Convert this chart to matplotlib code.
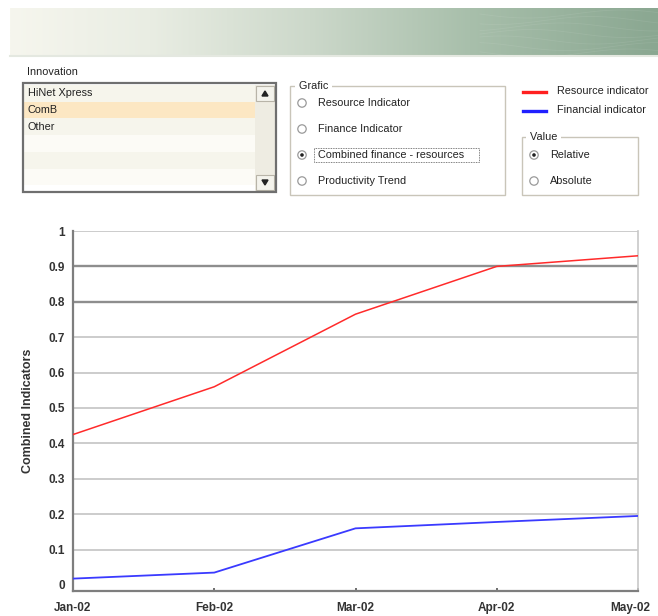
import numpy as np
import matplotlib
matplotlib.use("Agg")
import matplotlib.pyplot as plt
from matplotlib.patches import Rectangle, Circle
from matplotlib.transforms import ScaledTranslation

# ---- data ----
months = ["Jan-02", "Feb-02", "Mar-02", "Apr-02", "May-02"]
resource_indicator = [0.425, 0.56, 0.765, 0.90, 0.93]
financial_indicator = [0.018, 0.035, 0.16, 0.178, 0.195]
y_ticks = [0, 0.1, 0.2, 0.3, 0.4, 0.5, 0.6, 0.7, 0.8, 0.9, 1]
y_tick_labels = ["0", "0.1", "0.2", "0.3", "0.4", "0.5", "0.6", "0.7", "0.8", "0.9", "1"]
innovations = ["HiNet Xpress", "ComB", "Other"]
grafic_options = ["Resource Indicator", "Finance Indicator",
                  "Combined finance - resources", "Productivity Trend"]
value_options = ["Relative", "Absolute"]

plt.rcParams["font.family"] = ["Liberation Sans", "DejaVu Sans"]

W, H = 658, 616
fig = plt.figure(figsize=(W / 100, H / 100), dpi=100)
fig.patch.set_facecolor("white")

# ---- panel layer in pixel coordinates ----
ui = fig.add_axes([0, 0, 1, 1], zorder=0)
ui.set_xlim(0, W)
ui.set_ylim(H, 0)
ui.axis("off")

# header banner with horizontal gradient
gx = np.array([0, 140, 300, 460, 648], dtype=float)
gc = np.array([[246, 246, 238], [233, 237, 227], [204, 216, 202],
               [168, 191, 171], [138, 167, 145]], dtype=float) / 255
xs = np.linspace(0, 648, 400)
grad = np.stack([np.interp(xs, gx, gc[:, k]) for k in range(3)], axis=-1)
grad = np.repeat(grad[None, :, :], 2, axis=0)
ui.imshow(grad, extent=[10, 658, 55, 8], aspect="auto", zorder=1)
ui.plot([10, 658], [55.5, 55.5], color="#e4e8e0", lw=1.5, zorder=2)
# faint wave texture on the right of the banner
for k in range(7):
    t = np.linspace(0, 1, 60)
    wx = 480 + t * 180
    wy = 14 + k * 6.5 + 4 * np.sin(t * 6 + k)
    ui.plot(wx, wy, color="white", lw=0.6, alpha=0.08, zorder=2)

fs_ui = 7.8
# innovation list
ui.text(27, 72, "Innovation", fontsize=fs_ui, va="center", color="#222222")
row_h = 16.7
for i in range(6):
    y0 = 85 + i * row_h
    ui.add_patch(Rectangle((24, y0), 231, row_h,
                           facecolor="#f6f5ec" if i % 2 == 0 else "#fcfbf6",
                           edgecolor="none", zorder=2))
ui.add_patch(Rectangle((24, 85 + row_h), 231, row_h, facecolor="#fce7c3",
                       edgecolor="none", zorder=3))
for i, name in enumerate(innovations):
    ui.text(28, 85 + row_h * (i + 0.5), name, fontsize=fs_ui, va="center",
            color="#222222", zorder=4)
# scrollbar
ui.add_patch(Rectangle((255, 85), 20, 106, facecolor="#eeece2",
                       edgecolor="none", zorder=2))
ui.add_patch(Rectangle((256, 86), 18, 15, facecolor="#f4f3ec",
                       edgecolor="#b8b4a8", lw=0.8, zorder=3))
ui.add_patch(Rectangle((256, 175), 18, 15, facecolor="#f4f3ec",
                       edgecolor="#b8b4a8", lw=0.8, zorder=3))
ui.fill([262, 268, 265], [96, 96, 91], color="#222222", zorder=4)
ui.fill([262, 268, 265], [180, 180, 185], color="#222222", zorder=4)
ui.add_patch(Rectangle((23, 83), 253, 109, facecolor="none",
                       edgecolor="#6f6f6f", lw=1.6, zorder=5))


def radio(x, y, selected):
    ui.add_patch(Circle((x, y), 4.2, facecolor="white", edgecolor="#9a9a9a",
                        lw=0.9, zorder=4))
    if selected:
        ui.add_patch(Circle((x, y), 1.8, facecolor="#222222",
                            edgecolor="none", zorder=5))


# grafic group
ui.add_patch(Rectangle((290, 86), 215, 109, facecolor="none",
                       edgecolor="#c9c5b9", lw=1.0, zorder=3))
ui.text(296, 86, " Grafic ", fontsize=fs_ui, va="center", color="#222222",
        zorder=4, bbox=dict(facecolor="white", edgecolor="none", pad=0.5))
for i, opt in enumerate(grafic_options):
    yy = 103 + i * 26
    radio(302, yy, opt == "Combined finance - resources")
    ui.text(318, yy, opt, fontsize=fs_ui, va="center", color="#222222", zorder=4)
ui.add_patch(Rectangle((314, 148), 165, 14, facecolor="none",
                       edgecolor="#555555", lw=0.6, ls=(0, (1, 1)), zorder=4))

# legend
ui.plot([523, 546], [92, 92], color="#ff2020", lw=2.4, zorder=4)
ui.plot([523, 546], [111, 111], color="#2020ff", lw=2.4, zorder=4)
ui.text(557, 91, "Resource indicator", fontsize=fs_ui, va="center",
        color="#222222", zorder=4)
ui.text(557, 110, "Financial indicator", fontsize=fs_ui, va="center",
        color="#222222", zorder=4)

# value group
ui.add_patch(Rectangle((522, 137), 116, 58, facecolor="none",
                       edgecolor="#c9c5b9", lw=1.0, zorder=3))
ui.text(527, 137, " Value ", fontsize=fs_ui, va="center", color="#222222",
        zorder=4, bbox=dict(facecolor="white", edgecolor="none", pad=0.5))
for i, opt in enumerate(value_options):
    yy = 155 + i * 26
    radio(534, yy, opt == "Relative")
    ui.text(550, yy, opt, fontsize=fs_ui, va="center", color="#222222", zorder=4)

# ---- chart ----
left, right, top, bottom = 73, 638, 231, 591
ax = fig.add_axes([left / W, (H - bottom) / H, (right - left) / W,
                   (bottom - top) / H], zorder=2)
ax.set_facecolor("white")
x = np.arange(len(months))
ax.set_xlim(0, len(months) - 1)
ax.set_ylim(-0.017, 1)

for v in y_ticks[1:]:
    dark = round(v, 1) in (0.8, 0.9)
    ax.axhline(v, color="#8e8e8e" if dark else "#c4c4c4",
               lw=1.7 if dark else 1.2, zorder=1)

ax.plot(x, resource_indicator, color="#ff2a2a", lw=1.1, zorder=3)
ax.plot(x, financial_indicator, color="#3a3aff", lw=1.3, zorder=3)

ax.spines["top"].set_visible(False)
ax.spines["right"].set_color("#c8c8c8")
ax.spines["right"].set_linewidth(1.2)
ax.spines["left"].set_color("#7e7e7e")
ax.spines["left"].set_linewidth(1.6)
ax.spines["bottom"].set_color("#7e7e7e")
ax.spines["bottom"].set_linewidth(1.6)

ax.set_yticks(y_ticks)
ax.set_yticklabels(y_tick_labels, fontsize=8.5, fontweight="bold", color="#333333")
ax.set_xticks(x)
ax.set_xticklabels(months, fontsize=8.5, fontweight="bold", color="#333333")
ax.tick_params(axis="y", length=0, pad=6)
ax.tick_params(axis="x", length=2.5, width=1.2, color="#555555", pad=8,
               direction="in")
last = ax.get_xticklabels()[-1]
last.set_transform(last.get_transform() + ScaledTranslation(-0.08, 0, fig.dpi_scale_trans))
ax.set_ylabel("Combined Indicators", fontsize=9, fontweight="bold",
              color="#333333", labelpad=10)

fig.savefig("out.png", dpi=100, facecolor="white")
